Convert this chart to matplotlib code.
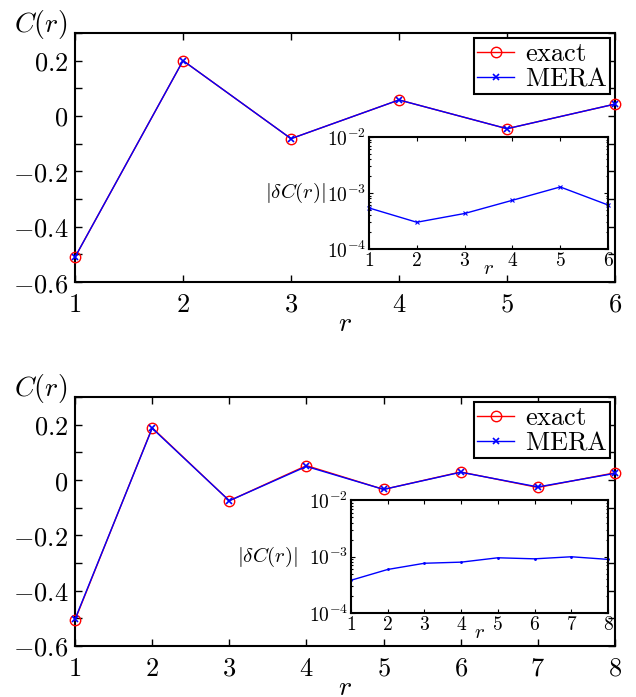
import matplotlib
matplotlib.use('Agg')
import matplotlib.pyplot as plt
from matplotlib.ticker import FixedLocator, MultipleLocator, LogLocator, NullFormatter

plt.rcParams['mathtext.fontset'] = 'cm'
plt.rcParams['font.family'] = 'serif'
plt.rcParams['xtick.direction'] = 'in'
plt.rcParams['ytick.direction'] = 'in'

# top panel data
r_top = [1, 2, 3, 4, 5, 6]
exact_top = [-0.51, 0.200, -0.082, 0.058, -0.046, 0.043]
mera_top = [-0.51, 0.200, -0.082, 0.058, -0.046, 0.043]
err_top = [5.4e-4, 3.0e-4, 4.3e-4, 7.4e-4, 1.28e-3, 6.1e-4]

# bottom panel data
r_bot = [1, 2, 3, 4, 5, 6, 7, 8]
exact_bot = [-0.506, 0.189, -0.075, 0.052, -0.034, 0.029, -0.027, 0.026]
mera_bot = [-0.503, 0.187, -0.075, 0.049, -0.034, 0.028, -0.025, 0.024]
err_bot = [3.8e-4, 5.9e-4, 7.6e-4, 7.95e-4, 9.5e-4, 9.1e-4, 9.9e-4, 8.9e-4]

main_yticks = [-0.6, -0.4, -0.2, 0, 0.2]
main_ylabels = ['$-0.6$', '$-0.4$', '$-0.2$', '$0$', '$0.2$']
inset_yticks = [1e-4, 1e-3, 1e-2]
inset_ylabels = ['$10^{-4}$', '$10^{-3}$', '$10^{-2}$']

fig = plt.figure(figsize=(6.36, 6.97), dpi=100)


def panel(main_rect, inset_rect, r, exact, mera, err, inset_marker, inset_ms, ylab_x):
    ax = fig.add_axes(main_rect)
    ax.plot(r, exact, '-o', color='red', lw=1.0, ms=7.5, mfc='none', mew=1.0,
            label='$\\mathrm{exact}$', clip_on=False, zorder=3)
    ax.plot(r, mera, '-x', color='blue', lw=1.0, ms=5, mew=1.2,
            label='$\\mathrm{MERA}$', clip_on=False, zorder=4)
    ax.set_xlim(r[0], r[-1])
    ax.set_ylim(-0.6, 0.3)
    ax.set_xticks(r)
    ax.set_xticklabels(['$%d$' % v for v in r], fontsize=19)
    ax.set_yticks(main_yticks)
    ax.set_yticklabels(main_ylabels, fontsize=19)
    ax.yaxis.set_minor_locator(MultipleLocator(0.1))
    ax.tick_params(which='both', top=True, right=True, length=5, width=1.0)
    ax.tick_params(axis='x', pad=7)
    ax.tick_params(axis='y', pad=5)
    for s in ax.spines.values():
        s.set_linewidth(1.5)
    ax.text(0.5, -0.168, '$r$', transform=ax.transAxes, fontsize=20, ha='center', va='center')
    ax.text(-0.113, 1.036, '$C(r)$', transform=ax.transAxes, fontsize=20, ha='left', va='center')
    leg = ax.legend(loc='upper right', fontsize=19, fancybox=False, framealpha=1,
                    edgecolor='black', borderpad=0.1, labelspacing=0.0, handlelength=1.4,
                    handletextpad=0.4, borderaxespad=0.2)
    leg.get_frame().set_linewidth(1.5)
    leg.set_zorder(10)

    ins = fig.add_axes(inset_rect)
    ins.set_zorder(11)
    ins.semilogy(r, err, '-', marker=inset_marker, color='blue', lw=1.0, ms=inset_ms, mew=0.8,
                 clip_on=False)
    ins.set_xlim(r[0], r[-1])
    ins.set_ylim(1e-4, 1e-2)
    ins.set_xticks(r)
    ins.set_xticklabels(['$%d$' % v for v in r], fontsize=14)
    ins.yaxis.set_major_locator(FixedLocator(inset_yticks))
    ins.set_yticklabels(inset_ylabels, fontsize=14)
    ins.yaxis.set_minor_locator(LogLocator(base=10, subs=range(2, 10)))
    ins.yaxis.set_minor_formatter(NullFormatter())
    ins.tick_params(which='both', top=True, right=True, width=0.8)
    ins.tick_params(which='major', length=3)
    ins.tick_params(which='minor', length=1.5)
    ins.tick_params(axis='x', pad=2)
    ins.tick_params(axis='y', pad=2)
    for s in ins.spines.values():
        s.set_linewidth(1.5)
    ins.text(0.5, -0.17, '$r$', transform=ins.transAxes, fontsize=15, ha='center', va='center')
    ins.text(ylab_x, 0.5, '$|\\delta C(r)|$', transform=ins.transAxes, fontsize=15,
             ha='right', va='center')
    return ax, ins


panel([0.118, 0.5954, 0.849, 0.3573], [0.5802, 0.6428, 0.3758, 0.1607],
      r_top, exact_top, mera_top, err_top, 'x', 3, -0.18)
panel([0.118, 0.0732, 0.849, 0.3572], [0.5519, 0.1205, 0.4041, 0.1621],
      r_bot, exact_bot, mera_bot, err_bot, '.', 2.5, -0.206)

fig.savefig('out.png', dpi=100)
